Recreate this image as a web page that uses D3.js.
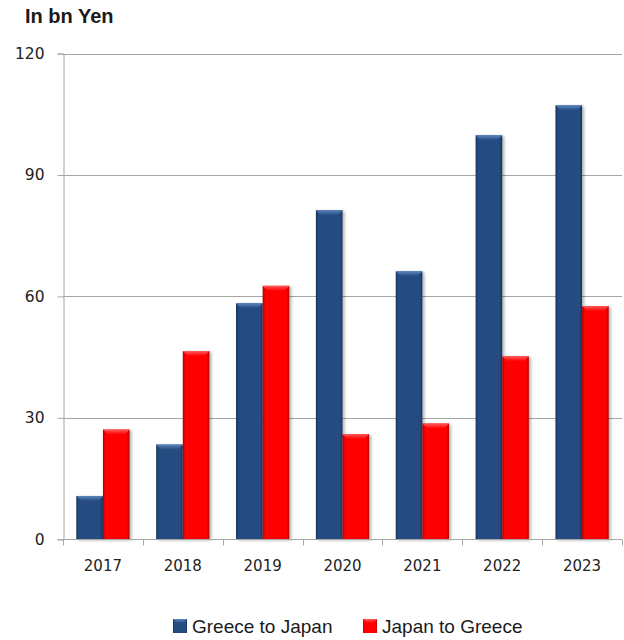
<!DOCTYPE html>
<html>
<head>
<meta charset="utf-8">
<script src="https://cdn.jsdelivr.net/npm/d3@7"></script>
<style>
  html, body { margin: 0; padding: 0; background: #fff; }
  svg { display: block; }
</style>
</head>
<body>
<div id="chart"></div>
<script>
const years = ["2017", "2018", "2019", "2020", "2021", "2022", "2023"];
const seriesNames = ["Greece to Japan", "Japan to Greece"];
const greeceToJapan = [10.7, 23.4, 58.3, 81.3, 66.2, 99.8, 107.2];
const japanToGreece = [27.1, 46.5, 62.6, 26.0, 28.6, 45.2, 57.6];
const yTicks = [0, 30, 60, 90, 120];
const seriesColors = ["#254c80", "#ff0000"];
const seriesDark = ["#16335a", "#b00000"];
const seriesLight = ["#5b86c0", "#ff5a5a"];

const W = 624, H = 640;
const plot = { left: 63, right: 622, top: 53.5, bottom: 539.3 };

const svg = d3.select("#chart").append("svg").attr("width", W).attr("height", H);
const defs = svg.append("defs");

seriesNames.forEach((s, i) => {
  const g = defs.append("linearGradient").attr("id", "grad" + i)
    .attr("x1", "0").attr("x2", "1").attr("y1", "0").attr("y2", "0");
  g.append("stop").attr("offset", "0%").attr("stop-color", seriesDark[i]);
  g.append("stop").attr("offset", "10%").attr("stop-color", seriesColors[i]);
  g.append("stop").attr("offset", "90%").attr("stop-color", seriesColors[i]);
  g.append("stop").attr("offset", "100%").attr("stop-color", seriesDark[i]);
  const t = defs.append("linearGradient").attr("id", "top" + i)
    .attr("x1", "0").attr("x2", "0").attr("y1", "0").attr("y2", "1");
  t.append("stop").attr("offset", "0%").attr("stop-color", seriesLight[i]);
  t.append("stop").attr("offset", "100%").attr("stop-color", seriesColors[i]);
});
const f = defs.append("filter").attr("id", "shadow").attr("x", "-20%").attr("y", "-5%").attr("width", "150%").attr("height", "115%");
f.append("feDropShadow").attr("dx", 2).attr("dy", 1).attr("stdDeviation", 1.5).attr("flood-color", "#000").attr("flood-opacity", 0.3);

const y = d3.scaleLinear().domain([0, 120]).range([plot.bottom, plot.top]);
const x0 = d3.scaleBand().domain(years).range([plot.left, plot.right]).paddingInner(0).paddingOuter(0);
const x1 = d3.scaleBand().domain(seriesNames).range([0, x0.bandwidth()]).paddingInner(0).paddingOuter(0.5);

// Gridlines
svg.append("g").selectAll("line").data(yTicks.filter(d => d > 0)).join("line")
  .attr("x1", plot.left).attr("x2", plot.right)
  .attr("y1", d => Math.round(y(d)) + 0.5).attr("y2", d => Math.round(y(d)) + 0.5)
  .attr("stroke", "#a6a6a6").attr("stroke-width", 1);

// Y axis
const yAxis = svg.append("g").attr("transform", `translate(${plot.left + 0.5},0)`)
  .call(d3.axisLeft(y).tickValues(yTicks).tickSize(6).tickPadding(13).tickFormat(d3.format("d")));
yAxis.select(".domain").attr("stroke", "#a6a6a6");
yAxis.selectAll(".tick line").attr("stroke", "#a6a6a6");
yAxis.selectAll(".tick text").attr("fill", "#222").style("font-family", "DejaVu Sans, Verdana, sans-serif").style("font-size", "15.5px");

// Bars
const data = years.map((yr, i) => ({ year: yr, vals: [greeceToJapan[i], japanToGreece[i]] }));
const groups = svg.append("g").selectAll("g").data(data).join("g")
  .attr("transform", d => `translate(${x0(d.year)},0)`);
groups.each(function(d) {
  const g = d3.select(this);
  d.vals.forEach((v, i) => {
    const bx = x1(seriesNames[i]);
    const bw = x1.bandwidth();
    const top = y(v), bot = y(0);
    g.append("rect").attr("x", bx).attr("y", top).attr("width", bw).attr("height", bot - top)
      .attr("fill", `url(#grad${i})`).attr("filter", "url(#shadow)");
    const bev = 5;
    g.append("path")
      .attr("d", `M${bx},${top} L${bx + bw},${top} L${bx + bw - bev},${top + bev} L${bx + bev},${top + bev} Z`)
      .attr("fill", `url(#top${i})`);
  });
});

// X axis
const xAxis = svg.append("g").attr("transform", `translate(0,${Math.round(plot.bottom) + 0.5})`);
xAxis.append("line").attr("x1", plot.left).attr("x2", plot.right).attr("stroke", "#a6a6a6");
xAxis.selectAll("line.tk").data(years.concat(["end"])).join("line").attr("class", "tk")
  .attr("x1", (d, i) => Math.round(plot.left + i * x0.step()) + 0.5)
  .attr("x2", (d, i) => Math.round(plot.left + i * x0.step()) + 0.5)
  .attr("y1", 0).attr("y2", 6).attr("stroke", "#a6a6a6");
xAxis.selectAll("text").data(years).join("text")
  .attr("x", d => x0(d) + x0.bandwidth() / 2).attr("y", 31.5)
  .attr("text-anchor", "middle").attr("fill", "#222")
  .style("font-family", "DejaVu Sans, Verdana, sans-serif").style("font-size", "15px")
  .text(d => d);

// Title
svg.append("text").attr("x", 25).attr("y", 23)
  .style("font-family", "Liberation Sans, Arial, sans-serif").style("font-weight", "bold").style("font-size", "20px")
  .attr("fill", "#1a1a1a").text("In bn Yen");

// Legend
const legendX = [173, 363];
const leg = svg.append("g").selectAll("g").data(seriesNames).join("g")
  .attr("transform", (d, i) => `translate(${legendX[i]},619)`);
leg.append("rect").attr("width", 14).attr("height", 14).attr("fill", (d, i) => `url(#grad${i})`);
leg.append("path").attr("d", "M0,0 L14,0 L10,4 L4,4 Z").attr("fill", (d, i) => `url(#top${i})`);
leg.append("text").attr("x", 19).attr("y", 13.5)
  .style("font-family", "Liberation Sans, Arial, sans-serif").style("font-size", "19px")
  .attr("fill", "#1a1a1a").text(d => d);
</script>
</body>
</html>
